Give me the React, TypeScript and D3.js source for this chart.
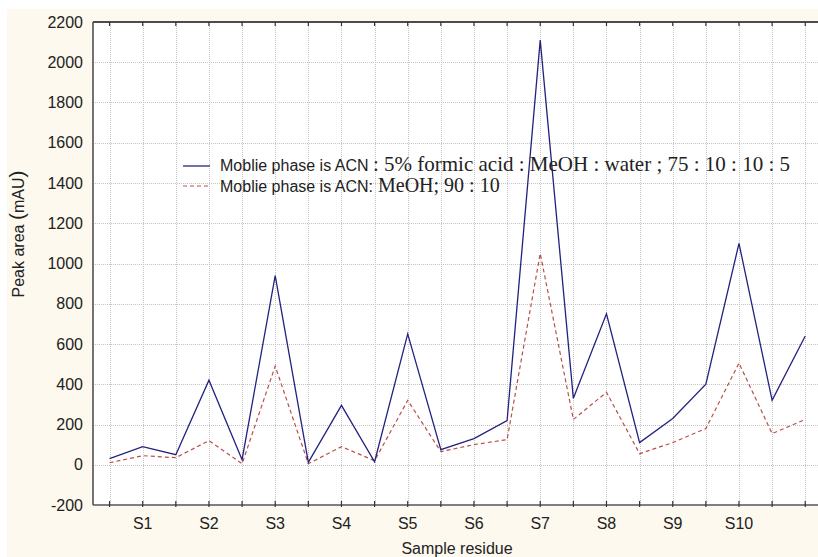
import * as d3 from "d3";
import { useEffect, useRef } from "react";

// ---- data ----
const sampleLabels = ["S1", "S2", "S3", "S4", "S5", "S6", "S7", "S8", "S9", "S10"];
const seriesACNFormic = [30, 90, 50, 420, 25, 940, 12, 295, 15, 650, 75, 130, 220, 2110, 330, 750, 110, 230, 400, 1100, 320, 640];
const seriesACNMeOH = [10, 45, 35, 120, 5, 490, 5, 90, 20, 320, 65, 100, 125, 1050, 225, 360, 55, 110, 180, 505, 155, 225];
const yTicks = [-200, 0, 200, 400, 600, 800, 1000, 1200, 1400, 1600, 1800, 2000, 2200];

export default function App() {
  const ref = useRef<SVGSVGElement | null>(null);

  useEffect(() => {
    const width = 818;
    const height = 557;
    const left = 93;
    const top = 22;
    const bottom = 505;
    const right = 845;

    document.body.style.margin = "0";

    const svg = d3.select(ref.current);
    svg.selectAll("*").remove();
    svg.attr("width", width).attr("height", height);

    // ---- background ----
    svg.append("rect").attr("width", width).attr("height", height).attr("fill", "#ffffff");
    svg.append("rect").attr("x", 7).attr("y", 9).attr("width", width - 7).attr("height", height - 9).attr("fill", "#fdf9ee");

    const n = seriesACNFormic.length;
    const idx = d3.range(n + 1);
    const x = d3.scaleLinear().domain([-0.5, 22.2]).range([left, right]);
    const y = d3.scaleLinear().domain([-200, 2200]).range([bottom, top]);

    svg.append("rect")
      .attr("x", left).attr("y", top)
      .attr("width", right - left).attr("height", bottom - top)
      .attr("fill", "#ffffff");

    // ---- grid ----
    const grid = svg.append("g").attr("stroke", "#c4c4c4").attr("stroke-width", 1).attr("stroke-dasharray", "1,1");
    grid.selectAll("line.v").data(idx).join("line")
      .attr("class", "v")
      .attr("x1", d => Math.round(x(d)) + 0.5).attr("x2", d => Math.round(x(d)) + 0.5)
      .attr("y1", top).attr("y2", bottom);
    grid.selectAll("line.h").data(yTicks.slice(1, -1)).join("line")
      .attr("class", "h")
      .attr("x1", left).attr("x2", right)
      .attr("y1", d => Math.round(y(d)) + 0.5).attr("y2", d => Math.round(y(d)) + 0.5);

    // ---- frame & ticks ----
    svg.append("line").attr("x1", left).attr("x2", right).attr("y1", top).attr("y2", top)
      .attr("stroke", "#111").attr("stroke-width", 1.5);
    svg.append("line").attr("x1", left).attr("x2", left).attr("y1", top).attr("y2", bottom)
      .attr("stroke", "#444").attr("stroke-width", 1.5);
    svg.append("line").attr("x1", left).attr("x2", right).attr("y1", bottom).attr("y2", bottom)
      .attr("stroke", "#555").attr("stroke-width", 1.5);

    const ticks = svg.append("g").attr("stroke", "#333").attr("stroke-width", 1.2);
    ticks.selectAll("line.b").data(idx).join("line")
      .attr("class", "b")
      .attr("x1", d => x(d)).attr("x2", d => x(d))
      .attr("y1", bottom - 4).attr("y2", bottom + 2);
    ticks.selectAll("line.t").data(idx).join("line")
      .attr("class", "t")
      .attr("x1", d => x(d)).attr("x2", d => x(d))
      .attr("y1", top).attr("y2", top + 4);

    // ---- tick labels ----
    const font = "'Liberation Sans', Arial, sans-serif";
    svg.append("g").selectAll("text").data(yTicks).join("text")
      .attr("x", 83).attr("y", d => y(d))
      .attr("dy", "0.35em").attr("text-anchor", "end")
      .attr("font-family", font).attr("font-size", 16).attr("fill", "#222")
      .text(d => d);

    svg.append("g").selectAll("text").data(sampleLabels).join("text")
      .attr("x", (_, i) => x(i * 2 + 1)).attr("y", 523)
      .attr("dy", "0.35em").attr("text-anchor", "middle")
      .attr("font-family", font).attr("font-size", 16).attr("fill", "#222")
      .text(d => d);

    svg.append("text")
      .attr("x", 457).attr("y", 548).attr("dy", "0.35em")
      .attr("text-anchor", "middle")
      .attr("font-family", font).attr("font-size", 16).attr("fill", "#222")
      .text("Sample residue");

    const yl = svg.append("text")
      .attr("transform", "translate(18,234) rotate(-90)")
      .attr("text-anchor", "middle").attr("dy", "0.35em")
      .attr("font-family", font).attr("font-size", 16).attr("fill", "#222");
    yl.append("tspan").text("Peak area ");
    yl.append("tspan").attr("font-size", 21).text("(");
    yl.append("tspan").text("mAU");
    yl.append("tspan").attr("font-size", 21).text(")");

    // ---- lines ----
    const line = d3.line<number>().x((_, i) => x(i)).y(d => y(d));

    svg.append("path").datum(seriesACNMeOH)
      .attr("d", line).attr("fill", "none")
      .attr("stroke", "#b8504a").attr("stroke-width", 1.2)
      .attr("stroke-dasharray", "4,3");

    svg.append("path").datum(seriesACNFormic)
      .attr("d", line).attr("fill", "none")
      .attr("stroke", "#22227f").attr("stroke-width", 1.3);

    // ---- legend ----
    const serif = "'Liberation Serif', 'Times New Roman', serif";
    const lg = svg.append("g");
    lg.append("line").attr("x1", 183).attr("x2", 210).attr("y1", 166).attr("y2", 166)
      .attr("stroke", "#22227f").attr("stroke-width", 1.3);
    lg.append("line").attr("x1", 183).attr("x2", 210).attr("y1", 186).attr("y2", 186)
      .attr("stroke", "#b8504a").attr("stroke-width", 1.2).attr("stroke-dasharray", "4,3");

    const t1 = lg.append("text").attr("x", 220).attr("y", 171).attr("fill", "#222");
    t1.append("tspan").attr("font-family", font).attr("font-size", 16).text("Moblie phase is ACN ");
    t1.append("tspan").attr("font-family", serif).attr("font-size", 21).text(": 5% formic acid : MeOH : water ; 75 : 10 : 10 : 5");

    const t2 = lg.append("text").attr("x", 220).attr("y", 192).attr("fill", "#222");
    t2.append("tspan").attr("font-family", font).attr("font-size", 16).text("Moblie phase is ACN:");
    t2.append("tspan").attr("font-family", serif).attr("font-size", 20).text(" MeOH; 90 : 10");
  }, []);

  return <svg ref={ref} style={{ display: "block" }} />;
}
